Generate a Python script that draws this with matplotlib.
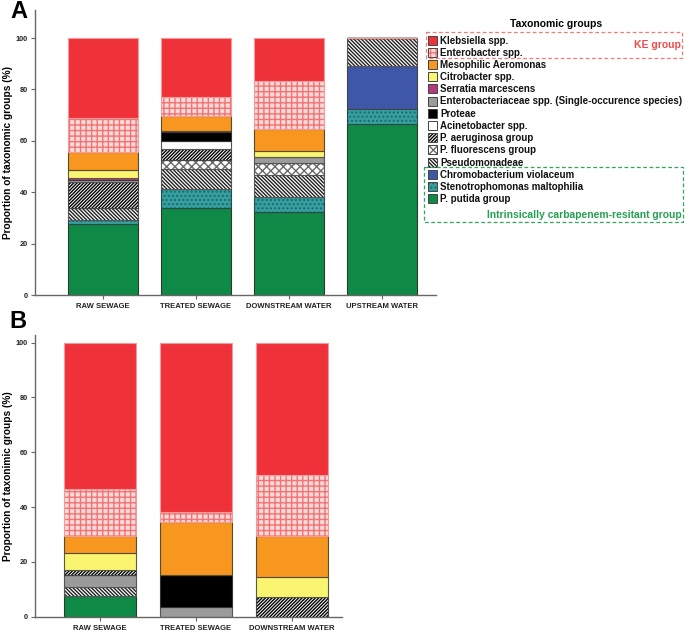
import numpy as np
import matplotlib
matplotlib.use("Agg")
import matplotlib.pyplot as plt
from matplotlib.patches import Rectangle

plt.rcParams['font.family'] = ['Liberation Sans', 'DejaVu Sans']
plt.rcParams['hatch.linewidth'] = 1.0

# taxa in legend order (top of legend first)
taxa = ["Klebsiella spp.", "Enterobacter spp.", "Mesophilic Aeromonas",
        "Citrobacter spp.", "Serratia marcescens",
        "Enterobacteriaceae spp. (Single-occurence species)", "Proteae",
        "Acinetobacter spp.", "P. aeruginosa group", "P. fluorescens group",
        "Pseudomonadeae", "Chromobacterium violaceum",
        "Stenotrophomonas maltophilia", "P. putida group"]

# panel A (%), same order as taxa
sites_a = ["RAW SEWAGE", "TREATED SEWAGE", "DOWNSTREAM WATER", "UPSTREAM WATER"]
raw_a = [31.3, 12.9, 7.0, 3.4, 0.8, 0.8, 0.0, 0.0, 9.9, 0.0, 4.7, 0.0, 1.6, 27.6]
treated_a = [22.8, 7.6, 5.7, 0.0, 0.6, 0.0, 3.4, 3.2, 4.2, 3.6, 7.7, 0.0, 7.5, 33.7]
downstream_a = [16.7, 18.8, 8.6, 2.3, 0.0, 2.4, 0.0, 0.0, 0.0, 4.5, 8.7, 0.0, 5.8, 32.2]
upstream_a = [0.0, 0.0, 0.0, 0.0, 0.0, 0.0, 0.0, 0.0, 0.0, 0.0, 11.0, 16.7, 5.6, 66.7]

# panel B (%), same order as taxa
sites_b = ["RAW SEWAGE", "TREATED SEWAGE", "DOWNSTREAM WATER"]
raw_b = [53.4, 17.2, 6.3, 6.1, 0.0, 4.3, 0.0, 0.0, 1.8, 0.0, 3.4, 0.0, 0.0, 7.5]
treated_b = [61.9, 3.6, 19.3, 0.0, 0.0, 3.6, 11.6, 0.0, 0.0, 0.0, 0.0, 0.0, 0.0, 0.0]
downstream_b = [48.3, 22.3, 14.8, 7.3, 0.0, 0.0, 0.0, 0.0, 7.3, 0.0, 0.0, 0.0, 0.0, 0.0]

# stacking order (bottom first), indices into taxa
order_a = [13, 12, 11, 10, 9, 8, 7, 6, 5, 4, 3, 2, 1, 0]
order_b = [13, 10, 5, 6, 8, 3, 2, 1, 0]

# face, hatch, hatch colour, border
styles = [
    ("#ef323a", None, "#ef323a", "#f59a9a"),
    ("#fbd9d9", "+++", "#f27474", "#f59a9a"),
    ("#f7971f", None, "#f7971f", "#5a4a30"),
    ("#faf571", None, "#faf571", "#5a5a40"),
    ("#b5397a", None, "#b5397a", "#4a3040"),
    ("#9b9b9b", None, "#9b9b9b", "#555555"),
    ("black", None, "black", "#333333"),
    ("white", None, "white", "#555555"),
    ("white", "/" * 10, "black", "#444444"),
    ("white", "xxxx", "#6a6a6a", "#555555"),
    ("white", "\\" * 9, "#222222", "#555555"),
    ("#3f57a9", None, "#3f57a9", "#444444"),
    ("#36a0a0", "....", "#1d6a6a", "#2a4a4a"),
    ("#0f8a46", None, "#0f8a46", "#2a3a2a"),
]


def stacked(ax, sites, columns, order):
    x = np.arange(len(sites))
    bottom = np.zeros(len(sites))
    for i in order:
        vals = np.array([col[i] for col in columns])
        face, hatch, hcol, edge = styles[i]
        ax.bar(x, vals, 0.75, bottom=bottom, color=face, hatch=hatch,
               edgecolor=hcol, linewidth=0)
        ax.bar(x, vals, 0.75, bottom=bottom, fill=False, edgecolor=edge,
               linewidth=0.8)
        bottom += vals
    ax.set_xticks(x)
    ax.set_xticklabels(sites, fontsize=5.5, fontweight='bold')
    ax.set_yticks([0, 20, 40, 60, 80, 100])
    ax.set_yticklabels(['0', '20', '40', '60', '80', '100'], fontsize=5.3,
                       fontweight='bold')
    for s in ['top', 'right']:
        ax.spines[s].set_visible(False)
    for s in ['left', 'bottom']:
        ax.spines[s].set_color('#666666')
        ax.spines[s].set_linewidth(1.0)
    ax.tick_params(colors='#666666', length=3, width=0.8, labelcolor='#222222',
                   pad=2)
    ax.tick_params(axis='x', pad=3)


fig = plt.figure(figsize=(6.85, 6.33), dpi=100)

ax_a = fig.add_axes([35 / 685, 1 - 295 / 633, 401 / 685, 285 / 633])
stacked(ax_a, sites_a, [raw_a, treated_a, downstream_a, upstream_a], order_a)
ax_a.set_xlim(-0.728, 3.584)
ax_a.set_ylim(0, 110.9)
ax_a.set_ylabel("Proportion of taxonomic groups (%)", fontsize=7.3,
                fontweight='bold')
ax_a.yaxis.set_label_coords(-22 / 401, 0.5)

ax_b = fig.add_axes([35 / 685, 1 - 616.7 / 633, 307 / 685, 281.7 / 633])
stacked(ax_b, sites_b, [raw_b, treated_b, downstream_b], order_b)
ax_b.set_xlim(-0.672, 2.524)
ax_b.set_ylim(0, 102.8)
ax_b.set_ylabel("Proportion of taxonimic groups (%)", fontsize=7.3,
                fontweight='bold')
ax_b.yaxis.set_label_coords(-22 / 307, 0.5)

# overlay in pixel coordinates for panel letters and legend
ov = fig.add_axes([0, 0, 1, 1])
ov.set_xlim(0, 685)
ov.set_ylim(633, 0)
ov.axis('off')

ov.text(19, 12, "A", fontsize=17, fontweight='bold', ha='center', va='center')
ov.text(18, 322, "B", fontsize=17, fontweight='bold', ha='center', va='center')

ov.text(556, 24, "Taxonomic groups", fontsize=7.5, fontweight='bold',
        ha='center', va='center')
y0, dy = 40.0, 12.2
for k, name in enumerate(taxa):
    face, hatch, hcol, edge = styles[k]
    y = y0 + k * dy
    ov.add_patch(Rectangle((428.5, y - 4.5), 9, 9, facecolor=face, hatch=hatch,
                           edgecolor=hcol, linewidth=0))
    ov.add_patch(Rectangle((428.5, y - 4.5), 9, 9, fill=False,
                           edgecolor='#444444', linewidth=0.7))
    ov.text(440, y + 0.5, name, fontsize=7.0, fontweight='bold', ha='left',
            va='center', color='#111111')

ov.add_patch(Rectangle((426, 32), 256, 25.5, fill=False, edgecolor='#f27b7b',
                       linewidth=0.9, linestyle=(0, (3, 2))))
ov.text(681, 45.5, "KE group", fontsize=7.5, fontweight='bold', color='#f04a4a',
        ha='right', va='center')
ov.add_patch(Rectangle((424.5, 166.5), 258.5, 55, fill=False,
                       edgecolor='#2fa65a', linewidth=0.9,
                       linestyle=(0, (3, 2))))
ov.text(682, 214.5, "Intrinsically carbapenem-resitant group", fontsize=7.4,
        fontweight='bold', color='#23a050', ha='right', va='center')

fig.savefig("out.png", dpi=100)
